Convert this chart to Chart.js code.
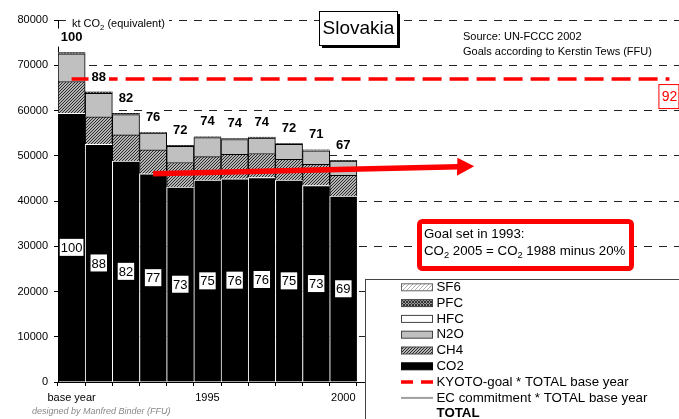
<!DOCTYPE html>
<html>
<head>
<meta charset="utf-8">
<title>Slovakia</title>
<script src="https://cdn.jsdelivr.net/npm/chart.js@4.4.0/dist/chart.umd.min.js"></script>
<style>
  html, body { margin: 0; padding: 0; background: #fff; overflow: hidden; }
  #wrap { position: absolute; left: 0; top: 0; width: 683px; height: 419px; }
</style>
</head>
<body>
<div id="wrap"><canvas id="chart"></canvas></div>
<script>
// categories run on to 2012 so the goal marks line up with the years
const categories = ['base year', '1991', '1992', '1993', '1994', '1995', '1996', '1997', '1998', '1999', '2000',
  '2001', '2002', '2003', '2004', '2005', '2006', '2007', '2008', '2009', '2010', '2011', '2012'];
const xTickLabels = ['base year', '1995', '2000'];

// kt CO2 equivalent
const co2 = [59400, 52500, 48800, 46000, 43100, 44600, 44900, 45200, 44600, 43400, 41100];
const ch4 = [7000, 6100, 5800, 5300, 5400, 5200, 5400, 5300, 4600, 4700, 4600];
const n2o = [6100, 5200, 4500, 3700, 3600, 4200, 3300, 3400, 3300, 3000, 3100];
const hfc = [0, 0, 0, 0, 0, 0, 0, 0, 0, 0, 0];
const pfc = [300, 300, 250, 200, 200, 200, 200, 200, 200, 200, 200];
const sf6 = [0, 0, 0, 0, 0, 0, 0, 0, 0, 0, 0];

// percent labels (total above bar, CO2 inside bar)
const totalPct = [100, 88, 82, 76, 72, 74, 74, 74, 72, 71, 67];
const co2Pct = [100, 88, 82, 77, 73, 75, 76, 76, 75, 73, 69];

// goals
const kyotoGoal = [66950, null, null, null, null, null, null, null, null, null, null,
  null, null, null, null, null, null, null, null, null, null, null, 66950];
const kyotoPct = '92';
const mark2012 = [null, null, null, null, null, null, null, null, null, null, null,
  null, null, null, null, null, null, null, null, null, null, null, 60000];
const co2GoalArrow = [null, null, null, 46000, null, null, null, null, null, null, null,
  null, null, null, null, 47700];
const co2Goal2005 = [null, null, null, null, null, null, null, null, null, null, null,
  null, null, null, null, 47700];

const FONT = 'Liberation Sans, Arial, sans-serif';
Chart.defaults.font.family = FONT;
Chart.defaults.color = '#000';

function hatch(bg, fg, n, cross) {
  const c = document.createElement('canvas');
  c.width = c.height = n * 2;
  const x = c.getContext('2d');
  x.fillStyle = bg;
  x.fillRect(0, 0, c.width, c.height);
  x.fillStyle = fg;
  for (let i = 0; i < c.width; i++) {
    for (let j = 0; j < c.height; j++) {
      if ((i + j) % n === 0 || (cross && (i - j + 2 * n) % n === 0)) x.fillRect(i, j, 1, 1);
    }
  }
  return x.createPattern(c, 'repeat');
}

const ch4Fill = hatch('#b4b4b4', '#2a2a2a', 3, false);
const pfcFill = hatch('#9a9a9a', '#333', 3, true);
const sf6Fill = hatch('#ffffff', '#b0b0b0', 4, false);

function richText(ctx, parts, x, y, size) {
  // parts: [text, isSubscript]
  let cx = x;
  parts.forEach(([t, sub]) => {
    ctx.font = (sub ? size * 0.7 : size) + 'px ' + FONT;
    ctx.fillText(t, cx, sub ? y + size * 0.25 : y);
    cx += ctx.measureText(t).width;
  });
}

const overlay = {
  id: 'overlay',
  afterDatasetsDraw(chart) {
    const ctx = chart.ctx;
    const top = chart.getDatasetMeta(5);
    const bottom = chart.getDatasetMeta(0);
    ctx.save();
    ctx.textAlign = 'center';
    ctx.textBaseline = 'middle';

    // CO2 share labels inside the bars
    ctx.font = '13px ' + FONT;
    co2Pct.forEach((v, i) => {
      const el = bottom.data[i];
      const y = (el.y + el.base) / 2;
      const w = ctx.measureText(String(v)).width + 2;
      ctx.fillStyle = '#fff';
      ctx.fillRect(el.x - w / 2, y - 8.5, w, 17);
      ctx.fillStyle = '#000';
      ctx.fillText(String(v), el.x, y + 1);
    });

    // totals above the bars
    ctx.font = 'bold 13px ' + FONT;
    totalPct.forEach((v, i) => {
      const el = top.data[i];
      const y = el.y - 15;
      const w = ctx.measureText(String(v)).width + 6;
      ctx.fillStyle = '#fff';
      ctx.fillRect(el.x - w / 2, y - 9, w, 18);
      ctx.fillStyle = '#000';
      ctx.fillText(String(v), el.x, y);
    });

    // red arrow towards the 2005 goal
    const arrow = chart.getDatasetMeta(8);
    const p0 = arrow.data[3], p1 = arrow.data[15];
    const tipX = p1.x - 5;
    const ang = Math.atan2(p1.y - p0.y, p1.x - p0.x);
    const tipY = p1.y - 5 * Math.sin(ang);
    const head = 17;
    const bx = tipX - head * Math.cos(ang), by = tipY - head * Math.sin(ang);
    ctx.strokeStyle = '#ff0000';
    ctx.fillStyle = '#ff0000';
    ctx.lineWidth = 5.5;
    ctx.beginPath();
    ctx.moveTo(p0.x, p0.y);
    ctx.lineTo(bx + 1, by);
    ctx.stroke();
    ctx.beginPath();
    ctx.moveTo(tipX, tipY);
    ctx.lineTo(bx - 9 * Math.sin(ang), by - 9);
    ctx.lineTo(bx + 9 * Math.sin(ang), by + 9);
    ctx.closePath();
    ctx.fill();
    ctx.restore();
  },
  afterDraw(chart) {
    const ctx = chart.ctx;
    ctx.save();

    // unit label
    ctx.fillStyle = '#fff';
    ctx.fillRect(66, 13, 103, 19);
    ctx.fillStyle = '#000';
    ctx.textBaseline = 'alphabetic';
    ctx.textAlign = 'left';
    richText(ctx, [['kt CO', false], ['2', true], [' (equivalent)', false]], 72, 27, 11);

    // title box with shadow
    ctx.fillStyle = '#000';
    ctx.fillRect(322, 14, 78, 34);
    ctx.fillStyle = '#fff';
    ctx.fillRect(319.5, 11.5, 78, 34);
    ctx.strokeStyle = '#000';
    ctx.lineWidth = 1;
    ctx.strokeRect(319.5, 11.5, 78, 34);
    ctx.fillStyle = '#000';
    ctx.font = '19px ' + FONT;
    ctx.textAlign = 'center';
    ctx.textBaseline = 'middle';
    ctx.fillText('Slovakia', 358.5, 29);

    // source
    ctx.textAlign = 'left';
    ctx.font = '11px ' + FONT;
    ctx.fillText('Source: UN-FCCC 2002', 463, 37);
    ctx.fillText('Goals according to Kerstin Tews (FFU)', 463, 52);

    // 92 % kyoto label
    const ky = chart.getDatasetMeta(6).data[22];
    ctx.fillStyle = '#fff';
    ctx.fillRect(ky.x - 11, ky.y + 5, 21, 25);
    ctx.strokeStyle = '#ff0000';
    ctx.strokeRect(ky.x - 10.5, ky.y + 5.5, 20, 24);
    ctx.fillStyle = '#ff0000';
    ctx.font = '14px ' + FONT;
    ctx.textAlign = 'center';
    ctx.fillText(kyotoPct, ky.x, ky.y + 18);

    // goal note
    ctx.fillStyle = '#fff';
    ctx.strokeStyle = '#ff0000';
    ctx.lineWidth = 5;
    ctx.beginPath();
    ctx.roundRect(419.5, 221.5, 212, 47, 3);
    ctx.fill();
    ctx.stroke();
    ctx.fillStyle = '#000';
    ctx.textAlign = 'left';
    ctx.textBaseline = 'alphabetic';
    richText(ctx, [['Goal set in 1993:', false]], 424, 237.5, 13.3);
    richText(ctx, [['CO', false], ['2', true], [' 2005 = CO', false], ['2', true], [' 1988 minus 20%', false]], 424, 255, 13.3);

    // legend
    ctx.lineWidth = 1;
    ctx.fillStyle = '#fff';
    ctx.strokeStyle = '#444';
    ctx.fillRect(365.5, 279.5, 330, 150);
    ctx.strokeRect(365.5, 279.5, 330, 150);
    const rows = [
      ['SF6', sf6Fill, '#666'],
      ['PFC', pfcFill, '#444'],
      ['HFC', '#fff', '#444'],
      ['N2O', '#c0c0c0', '#444'],
      ['CH4', ch4Fill, '#444'],
      ['CO2', '#000', '#000'],
      ['KYOTO-goal * TOTAL base year', 'kyoto'],
      ['EC commitment * TOTAL base year', 'ec'],
      ['TOTAL', 'total']
    ];
    ctx.textBaseline = 'middle';
    rows.forEach(([label, fill, edge], i) => {
      const y = 287.3 + i * 15.8;
      ctx.font = '13.3px ' + FONT;
      if (fill === 'kyoto') {
        ctx.strokeStyle = '#ff0000';
        ctx.lineWidth = 3.5;
        ctx.beginPath();
        ctx.moveTo(401, y); ctx.lineTo(413, y);
        ctx.moveTo(421, y); ctx.lineTo(433, y);
        ctx.stroke();
      } else if (fill === 'ec') {
        ctx.strokeStyle = '#a0a0a0';
        ctx.lineWidth = 2;
        ctx.beginPath();
        ctx.moveTo(401, y); ctx.lineTo(433, y);
        ctx.stroke();
      } else if (fill === 'total') {
        ctx.font = 'bold 13.3px ' + FONT;
      } else {
        ctx.fillStyle = fill;
        ctx.fillRect(401.5, y - 3.5, 31, 7);
        ctx.strokeStyle = edge;
        ctx.lineWidth = 1;
        ctx.strokeRect(401.5, y - 3.5, 31, 7);
      }
      ctx.fillStyle = '#000';
      ctx.fillText(label, 436.5, y);
    });

    // credit
    ctx.fillStyle = '#888';
    ctx.font = 'italic 9px ' + FONT;
    ctx.fillText('designed by Manfred Binder (FFU)', 32, 411);
    ctx.restore();
  }
};

const barBase = { type: 'bar', stack: 'g', order: 1, barPercentage: 1, categoryPercentage: 1 };

new Chart(document.getElementById('chart'), {
  data: {
    labels: categories,
    datasets: [
      { ...barBase, label: 'CO2', data: co2, backgroundColor: '#000', borderColor: '#fff',
        borderWidth: (c) => c.dataIndex === 0 ? { top: 1 } : { left: 1, top: 1 } },
      { ...barBase, label: 'CH4', data: ch4, backgroundColor: ch4Fill, borderColor: '#000', borderWidth: 1 },
      { ...barBase, label: 'N2O', data: n2o, backgroundColor: '#c0c0c0', borderColor: '#000', borderWidth: 1 },
      { ...barBase, label: 'HFC', data: hfc, backgroundColor: '#fff', borderWidth: 0 },
      { ...barBase, label: 'PFC', data: pfc, backgroundColor: pfcFill, borderColor: '#000', borderWidth: 0.5 },
      { ...barBase, label: 'SF6', data: sf6, backgroundColor: sf6Fill, borderWidth: 0 },
      { type: 'line', label: 'KYOTO-goal * TOTAL base year', data: kyotoGoal, order: 0, spanGaps: true,
        borderColor: '#ff0000', borderWidth: 3.5, borderDash: [19, 8], pointRadius: 0 },
      { type: 'line', label: '2012', data: mark2012, order: 0, showLine: false,
        pointStyle: 'line', pointRadius: 10, borderColor: '#000', borderWidth: 2.5 },
      { type: 'line', label: 'CO2 goal arrow', data: co2GoalArrow, order: 0, showLine: false, pointRadius: 0 },
      { type: 'line', label: 'CO2 goal 2005', data: co2Goal2005, order: 0, showLine: false,
        pointStyle: 'crossRot', pointRadius: 7, borderColor: '#ff0000', borderWidth: 1 }
    ]
  },
  options: {
    responsive: true,
    maintainAspectRatio: false,
    animation: false,
    layout: { autoPadding: false, padding: { top: 20, right: 0, bottom: 0, left: 0 } },
    plugins: { legend: { display: false }, tooltip: { enabled: false } },
    scales: {
      x: {
        stacked: true,
        afterFit: (s) => { s.height = 37; },
        grid: { offset: true, drawOnChartArea: false, tickLength: 4, tickColor: '#000' },
        border: { color: '#000', width: 1 },
        ticks: {
          autoSkip: false, maxRotation: 0, padding: 5, font: { size: 11 }, color: '#000',
          callback: function (v) {
            const l = this.getLabelForValue(v);
            return xTickLabels.includes(l) ? l : '';
          }
        }
      },
      y: {
        stacked: true,
        min: 0,
        max: 80000,
        afterFit: (s) => { s.width = 58; },
        grid: {
          color: (c) => c.tick && c.tick.value === 0 ? 'rgba(0,0,0,0)' : '#222',
          tickLength: 4, tickColor: '#000', tickBorderDash: []
        },
        border: { color: '#000', width: 1, dash: [8, 7] },
        ticks: { stepSize: 10000, padding: 6, font: { size: 11 }, color: '#000', callback: (v) => String(v) }
      }
    }
  },
  plugins: [overlay]
});
</script>
</body>
</html>
